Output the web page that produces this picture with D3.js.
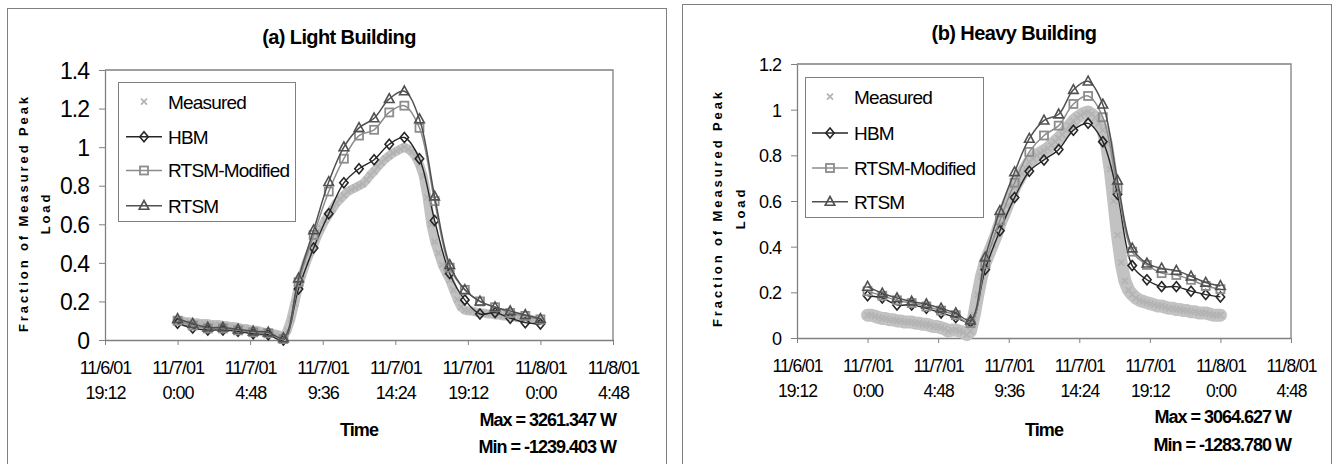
<!DOCTYPE html>
<html><head><meta charset="utf-8">
<script src="https://cdn.jsdelivr.net/npm/d3@7"></script>
<style>
body{margin:0;background:#fff;}
svg{display:block;font-family:Arial,"Liberation Sans",sans-serif;}
</style>
</head><body>
<svg id="c" width="1338" height="464"></svg>
<script>
// ---------------- DATA ----------------
const seriesNames = ["Measured", "HBM", "RTSM-Modified", "RTSM"];
const xTickHours = [-4.8, 0, 4.8, 9.6, 14.4, 19.2, 24, 28.8];
const xTickDates = ["11/6/01", "11/7/01", "11/7/01", "11/7/01", "11/7/01", "11/7/01", "11/8/01", "11/8/01"];
const xTickTimes = ["19:12", "0:00", "4:48", "9:36", "14:24", "19:12", "0:00", "4:48"];
const lightYTicks = [0, 0.2, 0.4, 0.6, 0.8, 1, 1.2, 1.4];
const heavyYTicks = [0, 0.2, 0.4, 0.6, 0.8, 1, 1.2];

// hourly model results (hours after 11/7/01 0:00)
const modelHours = [0,1,2,3,4,5,6,7,8,9,10,11,12,13,14,15,16,17,18,19,20,21,22,23,24];

const lightHBM     = [0.087,0.062,0.052,0.052,0.045,0.032,0.027,0.0,0.265,0.477,0.655,0.815,0.888,0.935,1.015,1.05,0.94,0.62,0.345,0.208,0.135,0.142,0.113,0.09,0.083];
const lightRTSMMod = [0.10,0.075,0.06,0.06,0.05,0.04,0.035,0.005,0.30,0.545,0.77,0.94,1.06,1.09,1.18,1.215,1.10,0.72,0.375,0.26,0.20,0.17,0.14,0.125,0.107];
const lightRTSM    = [0.11,0.085,0.065,0.065,0.055,0.045,0.04,0.01,0.32,0.57,0.82,1.0,1.10,1.15,1.25,1.29,1.145,0.745,0.39,0.26,0.20,0.17,0.15,0.13,0.11];

const heavyHBM     = [0.185,0.175,0.145,0.145,0.13,0.11,0.09,0.07,0.30,0.47,0.615,0.73,0.78,0.826,0.91,0.94,0.86,0.63,0.317,0.255,0.225,0.225,0.205,0.19,0.18];
const heavyRTSMMod = [0.205,0.185,0.165,0.153,0.138,0.12,0.10,0.065,0.325,0.515,0.68,0.815,0.887,0.93,1.025,1.06,0.967,0.655,0.378,0.32,0.284,0.276,0.255,0.228,0.214];
const heavyRTSM    = [0.225,0.196,0.175,0.16,0.148,0.13,0.109,0.077,0.353,0.557,0.727,0.873,0.953,0.98,1.087,1.124,1.023,0.69,0.393,0.327,0.305,0.295,0.27,0.243,0.228];

// measured load, read every 15 minutes
const measuredHours = [0,0.25,0.5,0.75,1,1.25,1.5,1.75,2,2.25,2.5,2.75,3,3.25,3.5,3.75,4,4.25,4.5,4.75,5,5.25,5.5,5.75,6,6.25,6.5,6.75,7,7.25,7.5,7.75,8,8.25,8.5,8.75,9,9.25,9.5,9.75,10,10.25,10.5,10.75,11,11.25,11.5,11.75,12,12.25,12.5,12.75,13,13.25,13.5,13.75,14,14.25,14.5,14.75,15,15.25,15.5,15.75,16,16.25,16.5,16.75,17,17.25,17.5,17.75,18,18.25,18.5,18.75,19,19.25,19.5,19.75,20,20.25,20.5,20.75,21,21.25,21.5,21.75,22,22.25,22.5,22.75,23,23.25,23.5,23.75,24];
const lightMeasured = [0.10,0.10,0.095,0.095,0.09,0.09,0.085,0.085,0.085,0.08,0.08,0.08,0.075,0.075,0.07,0.07,0.065,0.06,0.06,0.055,0.05,0.05,0.045,0.04,0.04,0.035,0.03,0.025,0.015,0.05,0.11,0.19,0.28,0.34,0.40,0.45,0.49,0.54,0.58,0.62,0.65,0.68,0.71,0.73,0.75,0.77,0.78,0.79,0.80,0.81,0.83,0.855,0.875,0.90,0.92,0.94,0.955,0.97,0.98,0.99,1.00,0.99,0.975,0.95,0.91,0.85,0.74,0.60,0.51,0.45,0.39,0.35,0.31,0.26,0.21,0.17,0.155,0.15,0.15,0.145,0.14,0.14,0.135,0.135,0.13,0.13,0.125,0.125,0.12,0.12,0.115,0.115,0.11,0.11,0.105,0.10,0.10];
const heavyMeasured = [0.10,0.10,0.095,0.09,0.085,0.085,0.08,0.08,0.075,0.075,0.07,0.07,0.07,0.065,0.065,0.06,0.06,0.055,0.05,0.05,0.045,0.04,0.03,0.035,0.035,0.03,0.025,0.015,0.03,0.10,0.19,0.27,0.33,0.37,0.41,0.45,0.50,0.54,0.58,0.62,0.66,0.69,0.72,0.745,0.77,0.785,0.80,0.81,0.82,0.83,0.845,0.86,0.875,0.89,0.91,0.93,0.95,0.965,0.975,0.985,0.99,0.98,0.965,0.94,0.91,0.85,0.74,0.60,0.45,0.33,0.25,0.21,0.19,0.175,0.165,0.16,0.155,0.15,0.145,0.14,0.14,0.135,0.13,0.13,0.125,0.125,0.12,0.12,0.115,0.115,0.11,0.11,0.11,0.105,0.10,0.10,0.10];

// --------------- LAYOUT / STYLE ---------------
const panels = [
  { frame:[7.5,8.5,659,470], px0:105, px1:613, py0:340, py1:70, yMax:1.4, yTicks:lightYTicks,
    yFont:23, xFont:18, title:"(a) Light Building", titleX:339, titleY:44,
    ytX:[28,49.5], ytY:213,
    leg:{x:118.5,y:82.5,w:177,h:139,rows:[101.7,136.7,170.5,205.7],s0:126,s1:162,tx:168},
    timeX:359, timeY:436, maxText:"Max = 3261.347 W", minText:"Min = -1239.403 W", mmX:616, maxY:426, minY:453,
    band:9, hbm:lightHBM, mod:lightRTSMMod, rtsm:lightRTSM, meas:lightMeasured },
  { frame:[682.5,4.5,649,470], px0:797, px1:1291, py0:338, py1:64, yMax:1.2, yTicks:heavyYTicks,
    yFont:18, xFont:17.5, title:"(b) Heavy Building", titleX:1014, titleY:40,
    ytX:[722,744.5], ytY:208,
    leg:{x:805.5,y:77.5,w:178,h:140,rows:[96.7,133,168,201.7],s0:812,s1:848,tx:854},
    timeX:1044, timeY:436, maxText:"Max = 3064.627 W", minText:"Min = -1283.780 W", mmX:1291, maxY:423, minY:451,
    band:13, hbm:heavyHBM, mod:heavyRTSMMod, rtsm:heavyRTSM, meas:heavyMeasured }
];

const colMeas = "#c2c2c2", colHBM = "#262626", colMod = "#8c8c8c", colRTSM = "#505050", colAxis = "#808080";

const svg = d3.select("#c");

function marker(g, type, x, y) {
  if (type === "diamond") {
    g.append("path").attr("d", `M${x},${y-5}L${x+4.2},${y}L${x},${y+5}L${x-4.2},${y}Z`)
      .attr("fill","none").attr("stroke",colHBM).attr("stroke-width",1.6);
  } else if (type === "square") {
    g.append("rect").attr("x",x-4).attr("y",y-4).attr("width",8).attr("height",8)
      .attr("fill","none").attr("stroke",colMod).attr("stroke-width",1.8);
  } else if (type === "triangle") {
    g.append("path").attr("d", `M${x},${y-5.2}L${x+4.8},${y+3.6}L${x-4.8},${y+3.6}Z`)
      .attr("fill","none").attr("stroke",colRTSM).attr("stroke-width",1.6);
  } else if (type === "x") {
    g.append("path").attr("d", `M${x-3},${y-3}L${x+3},${y+3}M${x-3},${y+3}L${x+3},${y-3}`)
      .attr("fill","none").attr("stroke","#b3b3b3").attr("stroke-width",1.7);
  }
}

panels.forEach(p => {
  const g = svg.append("g");
  g.append("rect").attr("x",p.frame[0]).attr("y",p.frame[1]).attr("width",p.frame[2]).attr("height",p.frame[3])
    .attr("fill","#fff").attr("stroke",colAxis).attr("stroke-width",1);

  const x = d3.scaleLinear().domain([xTickHours[0], xTickHours[xTickHours.length-1]]).range([p.px0, p.px1]);
  const y = d3.scaleLinear().domain([0, p.yMax]).range([p.py0, p.py1]);

  g.append("path").attr("d", `M${p.px0},${p.py1}H${p.px1}V${p.py0}`)
    .attr("fill","none").attr("stroke",colAxis).attr("stroke-width",1.3);

  const yAx = g.append("g").attr("transform",`translate(${p.px0},0)`)
    .call(d3.axisLeft(y).tickValues(p.yTicks).tickSize(6).tickSizeOuter(0).tickFormat(d3.format("~g")));
  yAx.select(".domain").attr("stroke",colAxis).attr("stroke-width",1.3);
  yAx.selectAll(".tick line").attr("stroke",colAxis);
  yAx.selectAll(".tick text").attr("x",-16).attr("font-size",p.yFont).attr("font-family","Arial, Liberation Sans, sans-serif")
    .attr("fill","#000").attr("letter-spacing","-1px").attr("dy","0.36em");

  const xAx = g.append("g").attr("transform",`translate(0,${p.py0})`)
    .call(d3.axisBottom(x).tickValues(xTickHours).tickSize(5).tickSizeOuter(0).tickFormat(""));
  xAx.select(".domain").attr("stroke",colAxis).attr("stroke-width",1.3);
  xAx.selectAll(".tick line").attr("stroke",colAxis);
  xAx.selectAll(".tick").each(function(d,i){
    const t = d3.select(this);
    t.append("text").attr("y",34).attr("text-anchor","middle").attr("font-size",p.xFont)
      .attr("fill","#000").attr("letter-spacing","-1px").text(xTickDates[i]);
    t.append("text").attr("y",59).attr("text-anchor","middle").attr("font-size",p.xFont)
      .attr("fill","#000").attr("letter-spacing","-1px").text(xTickTimes[i]);
  });

  const meas = measuredHours.map((h,i)=>[h,p.meas[i]]);
  g.append("path").datum(meas)
    .attr("d", d3.line().x(d=>x(d[0])).y(d=>y(d[1])))
    .attr("fill","none").attr("stroke",colMeas).attr("stroke-width",p.band)
    .attr("stroke-linejoin","round").attr("stroke-linecap","round");
  const mg = g.append("g");
  meas.forEach(d => marker(mg, "x", x(d[0]), y(d[1])));

  const defs = [
    {vals:p.hbm, col:colHBM, m:"diamond", w:1.4},
    {vals:p.mod, col:colMod, m:"square", w:1.5},
    {vals:p.rtsm, col:colRTSM, m:"triangle", w:1.5}
  ];
  const line = d3.line().x(d=>x(d[0])).y(d=>y(d[1])).curve(d3.curveCatmullRom.alpha(0.5));
  defs.forEach(s => {
    const pts = modelHours.map((h,i)=>[h,s.vals[i]]);
    g.append("path").datum(pts).attr("d",line).attr("fill","none").attr("stroke",s.col).attr("stroke-width",s.w);
    const sg = g.append("g");
    pts.forEach(d => marker(sg, s.m, x(d[0]), y(d[1])));
  });

  const L = p.leg;
  g.append("rect").attr("x",L.x).attr("y",L.y).attr("width",L.w).attr("height",L.h)
    .attr("fill","#fff").attr("stroke",colAxis).attr("stroke-width",1);
  const legDefs = [
    {m:"x", col:null},
    {m:"diamond", col:colHBM},
    {m:"square", col:colMod},
    {m:"triangle", col:colRTSM}
  ];
  legDefs.forEach((d,i) => {
    const cy = L.rows[i], cx = (L.s0+L.s1)/2;
    if (d.col) g.append("line").attr("x1",L.s0).attr("x2",L.s1).attr("y1",cy).attr("y2",cy)
      .attr("stroke",d.col).attr("stroke-width",1.5);
    marker(g, d.m, cx, cy);
    g.append("text").attr("x",L.tx).attr("y",cy).attr("dy","0.36em").attr("font-size",19)
      .attr("letter-spacing","-0.8px").attr("fill","#000").text(seriesNames[i]);
  });

  g.append("text").attr("x",p.titleX).attr("y",p.titleY).attr("text-anchor","middle")
    .attr("font-size",20).attr("font-weight","bold").attr("letter-spacing","-0.6px").text(p.title);

  const ytLines = ["Fraction of Measured Peak","Load"];
  ytLines.forEach((t,i) => {
    g.append("text").attr("transform",`translate(${p.ytX[i]},${p.ytY}) rotate(-90)`)
      .attr("text-anchor","middle").attr("font-size",13).attr("font-weight","bold")
      .attr("letter-spacing","2.9px").text(t);
  });

  g.append("text").attr("x",p.timeX).attr("y",p.timeY).attr("text-anchor","middle")
    .attr("font-size",18).attr("font-weight","bold").attr("letter-spacing","-0.9px").text("Time");
  g.append("text").attr("x",p.mmX).attr("y",p.maxY).attr("text-anchor","end")
    .attr("font-size",18).attr("font-weight","bold").attr("letter-spacing","-1px").text(p.maxText);
  g.append("text").attr("x",p.mmX).attr("y",p.minY).attr("text-anchor","end")
    .attr("font-size",18).attr("font-weight","bold").attr("letter-spacing","-1px").text(p.minText);
});
</script>
</body></html>
